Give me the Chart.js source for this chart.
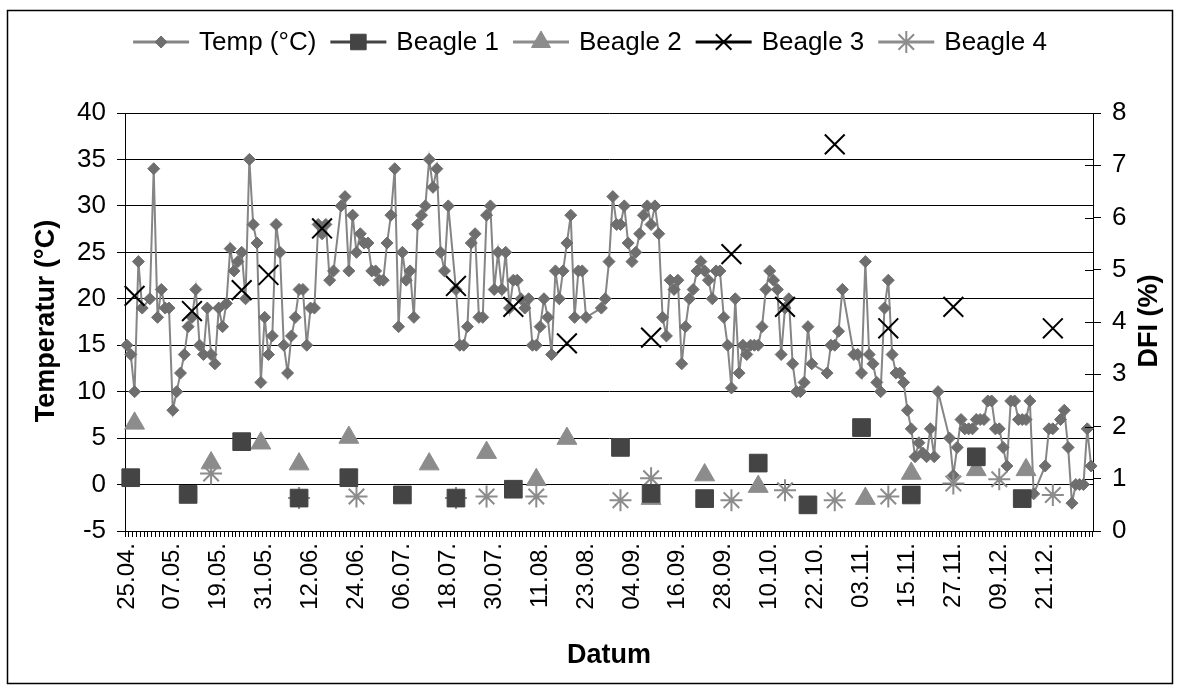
<!DOCTYPE html>
<html>
<head>
<meta charset="utf-8">
<script src="https://cdn.jsdelivr.net/npm/chart.js@4.4.1/dist/chart.umd.min.js"></script>
<style>
  html, body { margin: 0; padding: 0; background: #fff; }
  #wrap { position: relative; width: 1180px; height: 691px; }
</style>
</head>
<body>
<div id="wrap"><canvas id="chart" width="1180" height="691"></canvas></div>
<script>
// daily categories from 25.04. (253 days)
const startDate = new Date(2009, 3, 25);
const dayCount = 253;
const labels = [];
for (let i = 0; i < dayCount; i++) {
  const d = new Date(startDate.getFullYear(), startDate.getMonth(), startDate.getDate() + i);
  labels.push(String(d.getDate()).padStart(2, "0") + "." + String(d.getMonth() + 1).padStart(2, "0") + ".");
}
const lastLabelDay = 240; // 21.12.

// temperature readings: day offset from 25.04. and value in °C
const tempDay = [0,1,2,3,4,6,7,8,9,10,11,12,13,14,15,16,17,18,19,20,21,22,23,24,25,26,27,28,29,30,
  31,32,33,34,35,36,37,38,39,40,41,42,43,44,45,46,47,48,49,50,51,52,53,54,56,57,58,59,60,61,
  62,63,64,65,66,67,68,69,70,71,72,73,74,75,76,77,78,79,80,81,82,83,84,86,87,88,89,90,91,92,
  93,94,95,96,97,98,99,100,101,102,103,104,105,106,107,108,109,110,111,112,113,114,115,116,117,118,119,120,124,125,
  126,127,128,129,130,131,132,133,134,135,136,137,138,139,140,141,142,143,144,145,146,147,148,149,150,151,152,153,154,155,
  156,157,158,159,160,161,162,163,164,165,166,167,168,169,170,171,172,173,174,175,176,177,178,179,183,184,185,186,187,190,
  191,192,193,194,195,196,197,198,199,200,201,202,203,204,205,206,207,208,209,210,211,212,215,216,217,218,219,220,221,222,
  223,224,225,226,227,228,229,230,231,232,233,234,235,236,237,240,241,242,244,245,246,247,248,249,250,251,252];
const tempC = [15,14,10,24,19,20,34,18,21,19,19,8,10,12,14,17,18,21,15,14,19,14,13,19,17,19.5,25.4,23,24,25,
  20,35,28,26,11,18,14,16,28,25,15,12,16,18,21,21,15,19,19,28,27,28,22,23,30,31,23,29,25,27,
  26,26,23,23,22,22,26,29,34,17,25,22,23,18,28,29,30,35,32,34,25,23,30,21,15,15,17,26,27,18,
  18,29,30,21,25,21,25,19,22,22,20,19,20,15,15,17,20,18,14,23,20,23,26,29,18,23,23,18,19,20,
  24,31,28,28,30,26,24,25,27,29,30,28,30,27,18,16,22,21,22,13,17,20,21,23,24,23,22,20,23,23,
  18,15,10.4,20,12,15,14,15,15,15,17,21,23,22,21,14,19,20,13,10,10,11,17,13,12,15,15,16.5,21,14,
  14,12,24,14,13,11,10,19,22,14,12,12,11,8,6,3,4.5,3.4,3,6,3,10,5,1,4,7,6,6,6,7,
  7,7,9,9,6,6,4,2,9,9,7,7,7,9,-1,2,6,6,7,8,4,-2,0,0,0,6,2];

// DFI (%) per dog: day offset and value
const b1Day = [1,16,30,45,58,72,86,101,129,137,151,165,178,192,205,222,234];
const b1Dfi = [1.02,0.70,1.71,0.63,1.02,0.69,0.63,0.80,1.60,0.72,0.62,1.30,0.50,1.98,0.69,1.42,0.62];
const b2Day = [2,22,35,45,58,79,94,107,115,137,151,165,193,205,222,235];
const b2Dfi = [2.06,1.30,1.68,1.28,1.79,1.28,1.50,0.98,1.77,0.62,1.07,0.85,0.62,1.10,1.17,1.17];
const b3Day = [2,17,30,37,51,86,101,115,137,158,172,185,199,216,242];
const b3Dfi = [4.50,4.21,4.61,4.90,5.79,4.69,4.29,3.59,3.70,5.30,4.29,7.40,3.88,4.29,3.88];
const b4Day = [22,45,60,86,94,107,129,137,158,172,185,199,216,228,242];
const b4Dfi = [1.10,0.63,0.66,0.63,0.66,0.66,0.59,1.01,0.59,0.78,0.59,0.66,0.91,0.99,0.69];

const toPoints = (days, vals) => days.map((d, k) => ({ x: labels[d], y: vals[k] }));

const fontFamily = '"Liberation Sans", Arial, sans-serif';
Chart.defaults.font.family = fontFamily;
Chart.defaults.color = "#000";

const series = [
  { label: "Temp (°C)", style: "rectRot", radius: 6, fill: "#6e6e6e", line: "#858585", width: 1 },
  { label: "Beagle 1", style: "rect", radius: 12.5, fill: "#444444", line: "#444444", width: 1 },
  { label: "Beagle 2", style: "triangle", radius: 11.5, fill: "#8c8c8c", line: "#8c8c8c", width: 1 },
  { label: "Beagle 3", style: "crossRot", radius: 14, fill: "#000000", line: "#000000", width: 2 },
  { label: "Beagle 4", style: "star", radius: 11, fill: "#8c8c8c", line: "#8c8c8c", width: 2 },
];

// frame, legend and axis titles
const decor = {
  id: "decor",
  afterDraw(chart) {
    const ctx = chart.ctx;
    ctx.save();
    ctx.strokeStyle = "#000";
    ctx.lineWidth = 1.5;
    ctx.strokeRect(7.5, 10.5, 1165, 673);

    // inner half of the right axis ticks
    const y2 = chart.scales.y2;
    ctx.lineWidth = 1;
    ctx.beginPath();
    for (let v = 0; v <= 8; v++) {
      const py = Math.round(y2.getPixelForValue(v)) + 0.5;
      ctx.moveTo(chart.chartArea.right - 8, py);
      ctx.lineTo(chart.chartArea.right, py);
    }
    ctx.stroke();

    // legend
    ctx.font = "26px " + fontFamily;
    ctx.textBaseline = "middle";
    ctx.textAlign = "left";
    const lineLen = 56, gapText = 10, gapItem = 14, ly = 42;
    let total = 0;
    series.forEach(s => { total += lineLen + gapText + ctx.measureText(s.label).width; });
    total += gapItem * (series.length - 1);
    let x = 590 - total / 2;
    series.forEach(s => {
      ctx.strokeStyle = s.line;
      ctx.lineWidth = 3;
      ctx.beginPath();
      ctx.moveTo(x, ly);
      ctx.lineTo(x + lineLen, ly);
      ctx.stroke();
      ctx.fillStyle = s.fill;
      ctx.strokeStyle = s.fill;
      ctx.lineWidth = s.width;
      Chart.helpers.drawPoint(ctx, { pointStyle: s.style, radius: Math.min(s.radius, 11), borderWidth: s.width, rotation: 0 }, x + lineLen / 2, ly);
      ctx.fillStyle = "#000";
      ctx.fillText(s.label, x + lineLen + gapText, ly + 1);
      x += lineLen + gapText + ctx.measureText(s.label).width + gapItem;
    });

    // axis titles
    ctx.fillStyle = "#000";
    ctx.font = "bold 27px " + fontFamily;
    ctx.textAlign = "center";
    ctx.textBaseline = "middle";
    ctx.save();
    ctx.translate(47, 321);
    ctx.rotate(-Math.PI / 2);
    ctx.fillText("Temperatur (°C)", 0, 0);
    ctx.restore();
    ctx.save();
    ctx.translate(1150, 321);
    ctx.rotate(-Math.PI / 2);
    ctx.fillText("DFI (%)", 0, 0);
    ctx.restore();
    ctx.fillText("Datum", 609, 656);
    ctx.restore();
  }
};

const scatterSet = (s, days, vals) => ({
  label: s.label,
  data: toPoints(days, vals),
  yAxisID: "y2",
  showLine: false,
  pointStyle: s.style,
  pointRadius: s.radius,
  pointHoverRadius: s.radius,
  pointBackgroundColor: s.fill,
  pointBorderColor: s.fill,
  pointBorderWidth: s.width,
  order: 0,
});

new Chart(document.getElementById("chart").getContext("2d"), {
  type: "line",
  data: {
    labels: labels,
    datasets: [
      {
        label: series[0].label,
        data: toPoints(tempDay, tempC),
        yAxisID: "y",
        borderColor: series[0].line,
        borderWidth: 2,
        tension: 0,
        pointStyle: "rectRot",
        pointRadius: 6,
        pointHoverRadius: 6,
        pointBackgroundColor: series[0].fill,
        pointBorderColor: series[0].fill,
        pointBorderWidth: 1,
        order: 5,
      },
      scatterSet(series[1], b1Day, b1Dfi),
      scatterSet(series[2], b2Day, b2Dfi),
      scatterSet(series[3], b3Day, b3Dfi),
      scatterSet(series[4], b4Day, b4Dfi),
    ],
  },
  options: {
    responsive: false,
    animation: false,
    devicePixelRatio: 1,
    layout: { padding: { top: 113, left: 0, right: 0, bottom: 0 } },
    plugins: { legend: { display: false }, tooltip: { enabled: false } },
    scales: {
      x: {
        offset: true,
        afterFit: s => { s.height = 160; },
        border: { color: "#000", width: 1 },
        grid: { drawOnChartArea: false, tickLength: 6, color: "#000", offset: true },
        ticks: {
          autoSkip: false,
          minRotation: 90,
          maxRotation: 90,
          padding: 6,
          font: { size: 24 },
          color: "#000",
          callback: (v, i) => (i % 12 === 0 && i <= lastLabelDay ? labels[i] : ""),
        },
      },
      y: {
        position: "left",
        min: -5,
        max: 40,
        afterFit: s => { s.width = 125; },
        border: { color: "#000", width: 1 },
        grid: { color: "#000", tickLength: 8 },
        ticks: { stepSize: 5, padding: 11, font: { size: 26 }, color: "#000" },
      },
      y2: {
        position: "right",
        min: 0,
        max: 8,
        afterFit: s => { s.width = 87; },
        border: { color: "#000", width: 1 },
        grid: { drawOnChartArea: false, tickLength: 8, color: "#000" },
        ticks: { stepSize: 1, padding: 11, font: { size: 26 }, color: "#000" },
      },
    },
  },
  plugins: [decor],
});
</script>
</body>
</html>
